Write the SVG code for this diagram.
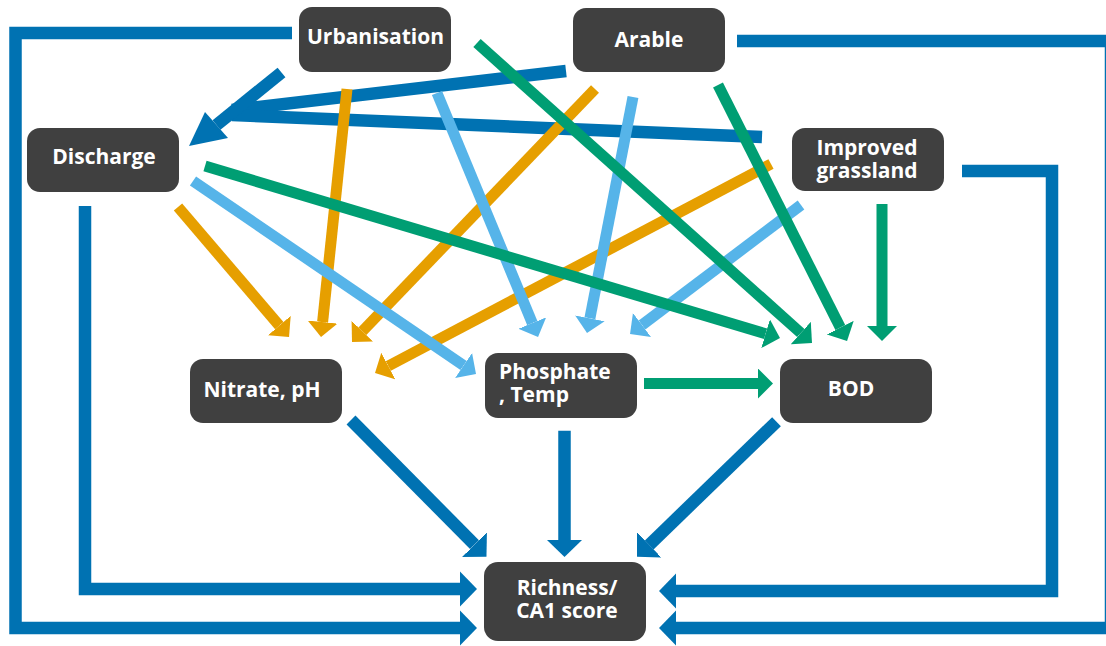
<svg xmlns="http://www.w3.org/2000/svg" width="1106" height="646" viewBox="0 0 1106 646">
<style>
.box{fill:#404040}
.lbl{fill:#ffffff;font-family:"Open Sans","Liberation Sans",sans-serif;font-weight:700;font-size:21px;text-anchor:middle}
.lft{text-anchor:start}
.c{fill:none;stroke-linecap:butt;stroke-linejoin:miter}
.db{stroke:#0072B2;stroke-width:12.5;marker-end:url(#mdb)}
.or{stroke:#E69F00;stroke-width:11;marker-end:url(#mor)}
.sk{stroke:#56B4E9;stroke-width:11;marker-end:url(#msk)}
.gr{stroke:#009E73;stroke-width:11;marker-end:url(#mgr)}
.nm{marker-end:none}
</style>
<defs>
<marker id="mdb" markerUnits="userSpaceOnUse" viewBox="0 -18 18 36" markerWidth="18" markerHeight="36" refX="0" refY="0" orient="auto"><path d="M0,-17.5 L17,0 L0,17.5 z" fill="#0072B2"/></marker>
<marker id="mor" markerUnits="userSpaceOnUse" viewBox="0 -15 16 30" markerWidth="16" markerHeight="30" refX="0" refY="0" orient="auto"><path d="M0,-15 L15,0 L0,15 z" fill="#E69F00"/></marker>
<marker id="msk" markerUnits="userSpaceOnUse" viewBox="0 -15 16 30" markerWidth="16" markerHeight="30" refX="0" refY="0" orient="auto"><path d="M0,-15 L15,0 L0,15 z" fill="#56B4E9"/></marker>
<marker id="mgr" markerUnits="userSpaceOnUse" viewBox="0 -15 16 30" markerWidth="16" markerHeight="30" refX="0" refY="0" orient="auto"><path d="M0,-15 L15,0 L0,15 z" fill="#009E73"/></marker>
</defs>
<rect width="1106" height="646" fill="#ffffff"/>
<g id="connectors">
<!-- dark blue loops -->
<path class="c db" d="M292,33 H15.5 V628 H460"/>
<path class="c db" d="M85,206 V589 H460"/>
<path class="c db" d="M737,41 H1111 V628 H676"/>
<path class="c db" d="M962,171 H1052 V591 H676"/>
<!-- into Discharge -->
<path class="c db nm" d="M566,71 L232,110"/>
<path class="c db nm" d="M762,137 L232,115"/>
<path class="c db nm" d="M281.5,72.5 L216.5,125"/>
<polygon points="189,146 205,112 228,138" fill="#0072B2"/>
<!-- orange to Nitrate -->
<path class="c or" d="M178,207 L279.3,325.6"/>
<path class="c or" d="M347,89 L322.6,322.1"/>
<path class="c or" d="M595,89 L362.4,331.2"/>
<path class="c or" d="M771,164 L388.3,366"/>
<!-- sky to Phosphate -->
<path class="c sk" d="M193,181 L463.6,365.5"/>
<path class="c sk" d="M437,93 L532.3,323.1"/>
<path class="c sk" d="M633,97 L589.9,318.3"/>
<path class="c sk" d="M801,205 L642,325"/>
<!-- green to BOD -->
<path class="c gr" d="M205,166 L765.6,333.7"/>
<path class="c gr" d="M477,43 L800.8,333"/>
<path class="c gr" d="M718,85 L840.3,327.6"/>
<path class="c gr" d="M882,204 L882,326"/>
<path class="c gr" d="M644,383.5 L758,383.5"/>
<!-- dark blue to Richness -->
<path class="c db" d="M351,420 L474.5,544.6"/>
<path class="c db" d="M564.5,430.7 L564.5,540"/>
<path class="c db" d="M776.5,421.7 L649.2,544.9"/>
</g>
<g id="urbanisation"><rect class="box" x="299" y="7" width="152" height="65" rx="13"/><text class="lbl" x="375.5" y="44">Urbanisation</text></g>
<g id="arable"><rect class="box" x="573" y="8" width="152" height="64" rx="13"/><text class="lbl" x="649" y="47">Arable</text></g>
<g id="discharge"><rect class="box" x="27" y="128" width="152" height="64" rx="13"/><text class="lbl" x="104" y="164">Discharge</text></g>
<g id="improved-grassland"><rect class="box" x="792" y="128" width="152" height="63" rx="13"/><text class="lbl" x="867" y="155">Improved</text><text class="lbl" x="867" y="178">grassland</text></g>
<g id="nitrate-ph"><rect class="box" x="190" y="359" width="152" height="64" rx="13"/><text class="lbl" x="262" y="397">Nitrate, pH</text></g>
<g id="phosphate-temp"><rect class="box" x="485" y="353" width="152" height="65" rx="13"/><text class="lbl lft" x="499" y="379">Phosphate</text><text class="lbl lft" x="499" y="402">, Temp</text></g>
<g id="bod"><rect class="box" x="780" y="359" width="152" height="64" rx="13"/><text class="lbl" x="851" y="396">BOD</text></g>
<g id="richness"><rect class="box" x="484" y="562" width="162" height="79" rx="14"/><text class="lbl" x="567" y="595">Richness/</text><text class="lbl" x="567" y="618">CA1 score</text></g>
</svg>
